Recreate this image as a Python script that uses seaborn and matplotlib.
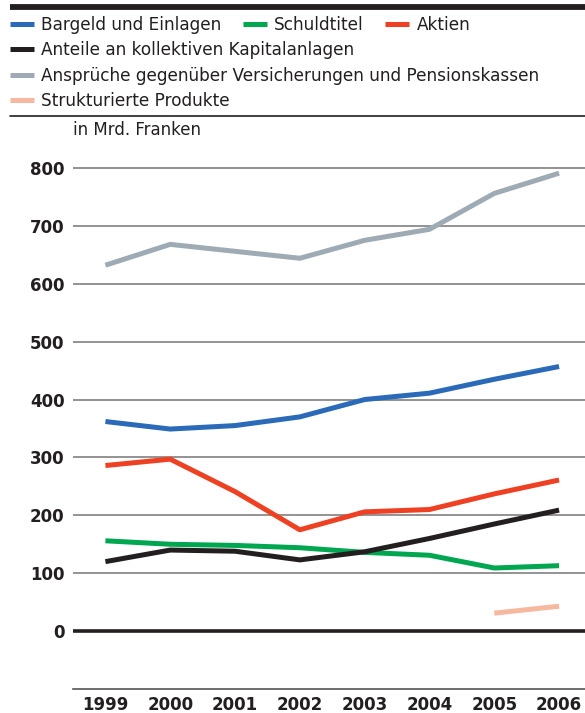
import pandas as pd
import seaborn as sns
import matplotlib.pyplot as plt
from matplotlib.lines import Line2D

# =========================
# DATA (Mrd. Franken)
# =========================
years = [1999, 2000, 2001, 2002, 2003, 2004, 2005, 2006]
bargeld = [362, 349, 355, 370, 400, 411, 435, 457]
schuldtitel = [156, 150, 148, 144, 136, 131, 109, 113]
aktien = [286, 297, 241, 175, 206, 210, 237, 261]
anteile = [120, 140, 138, 123, 137, 160, 185, 209]
ansprueche = [632, 668, 656, 644, 675, 694, 756, 791]
struktur_years = [2005, 2006]
strukturiert = [31, 43]

names = ['Bargeld und Einlagen', 'Schuldtitel', 'Aktien',
         'Anteile an kollektiven Kapitalanlagen',
         'Ansprüche gegenüber Versicherungen und Pensionskassen',
         'Strukturierte Produkte']
colors = ['#2a6ab8', '#00a650', '#ee4124', '#231f20', '#9eaab4', '#f7b8a0']

rows = []
for name, vals in zip(names[:5], [bargeld, schuldtitel, aktien, anteile, ansprueche]):
    for y, v in zip(years, vals):
        rows.append({'Jahr': y, 'Wert': v, 'Serie': name})
for y, v in zip(struktur_years, strukturiert):
    rows.append({'Jahr': y, 'Wert': v, 'Serie': names[5]})
df = pd.DataFrame(rows)

# =========================
# STYLE
# =========================
sns.set_style('white')
plt.rcParams['font.family'] = ['DejaVu Sans']
txt = '#231f20'

fig = plt.figure(figsize=(5.85, 7.13), dpi=100)
ax = fig.add_axes([73/585, 24/713, 512/585, 550/713])

sns.lineplot(data=df, x='Jahr', y='Wert', hue='Serie', hue_order=names,
             palette=colors, linewidth=3.6, estimator=None,
             solid_capstyle='butt', ax=ax, zorder=3)

handles, labels = ax.get_legend_handles_labels()
ax.get_legend().remove()
ax.set_xlabel('')
ax.set_ylabel('')

# =========================
# AXES
# =========================
ax.set_xlim(1998.5, 2006.4)
ax.set_ylim(-100, 850)
ax.set_yticks(range(0, 900, 100))
ax.yaxis.grid(True, color='#808080', linewidth=1.2)
ax.set_axisbelow(True)
ax.axhline(0, color=txt, linewidth=2.6, zorder=2)

ax.set_xticks(years)
ax.set_xticks([y - 0.5 for y in years], minor=True)
ax.tick_params(axis='x', which='major', length=0, pad=5, labelsize=12, labelcolor=txt)
ax.tick_params(axis='x', which='minor', direction='in', length=7, width=1, color='#555555')
ax.tick_params(axis='y', length=0, pad=6, labelsize=12, labelcolor=txt)
for lab in ax.get_xticklabels() + ax.get_yticklabels():
    lab.set_fontweight('bold')

for s in ['left', 'top', 'right']:
    ax.spines[s].set_visible(False)
ax.spines['bottom'].set_color('#555555')
ax.spines['bottom'].set_linewidth(1.2)

# =========================
# LEGEND + HEADER
# =========================
leg_kw = dict(loc='center left', frameon=False, fontsize=12.2, handlelength=1.4,
              handletextpad=0.45, columnspacing=1.25, borderpad=0, borderaxespad=0,
              labelcolor=txt)
fig.legend(handles[:3], labels[:3], ncol=3, bbox_to_anchor=(10/585, 1 - 25/713), **leg_kw)
for i, ypix in zip([3, 4, 5], [50, 76, 101]):
    fig.legend([handles[i]], [labels[i]], bbox_to_anchor=(10/585, 1 - ypix/713), **leg_kw)

fig.add_artist(Line2D([10/585, 1], [1 - 7/713] * 2, color=txt, linewidth=4.2,
                      solid_capstyle='butt', transform=fig.transFigure))
fig.add_artist(Line2D([10/585, 1], [1 - 116/713] * 2, color=txt, linewidth=1.2,
                      transform=fig.transFigure))
fig.text(73/585, 1 - 130/713, 'in Mrd. Franken', fontsize=12, color=txt, va='center')

plt.savefig('out.png', dpi=100)
